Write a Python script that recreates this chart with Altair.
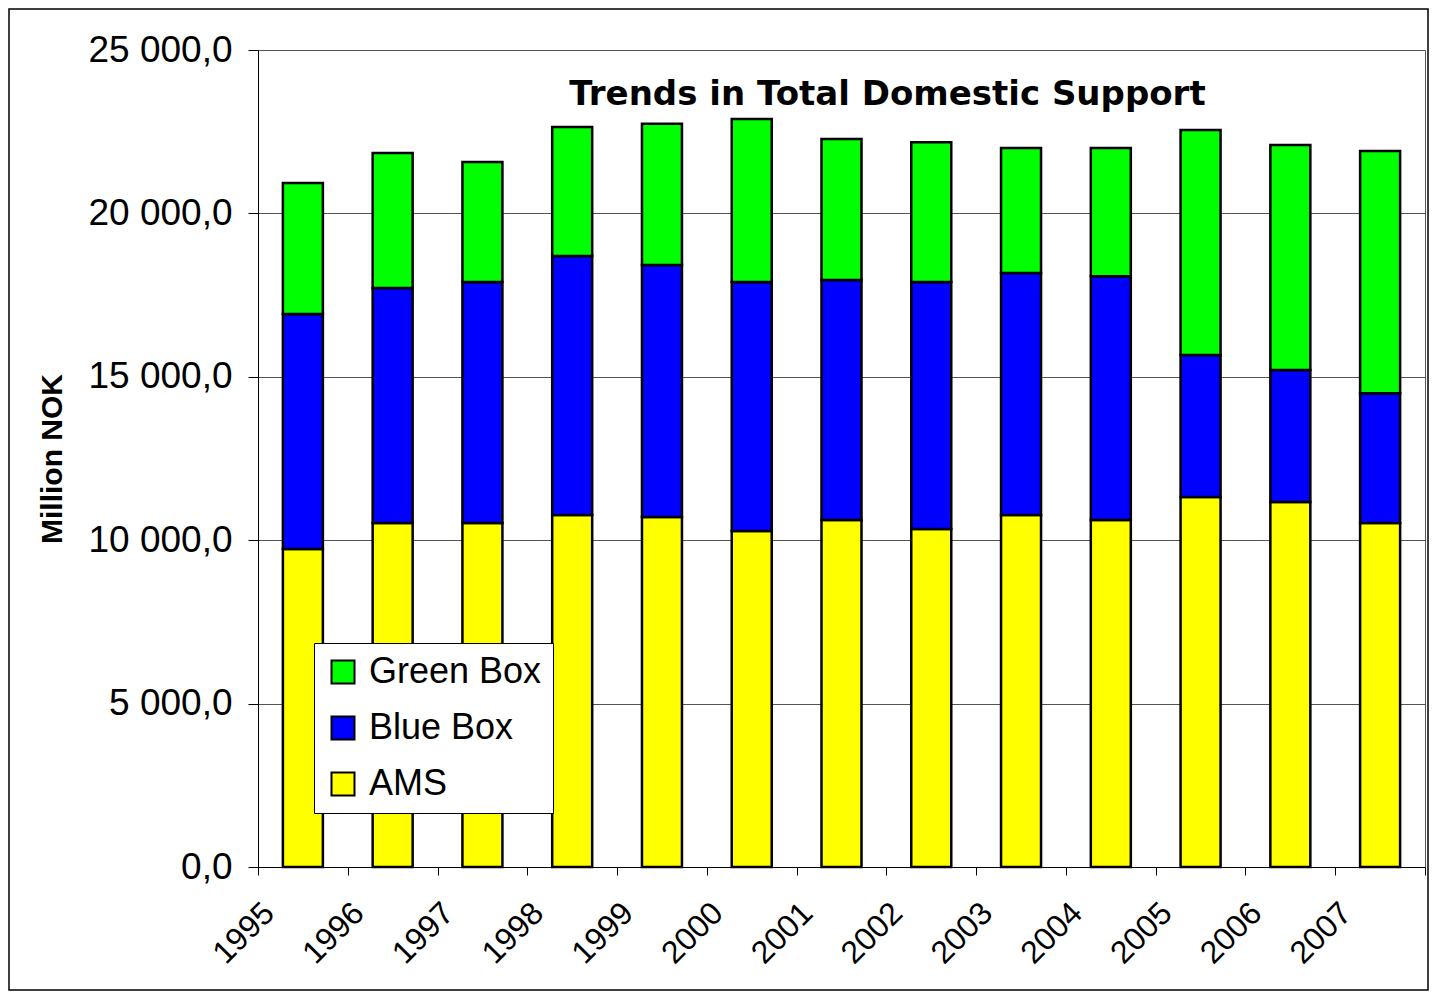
import altair as alt
import pandas as pd

years = [str(y) for y in range(1995, 2008)]
ams = [9730, 10530, 10530, 10770, 10710, 10280, 10620, 10340, 10770, 10620, 11320, 11170, 10530]
blue_box = [7190, 7190, 7370, 7930, 7710, 7620, 7340, 7560, 7410, 7460, 4350, 4040, 3970]
green_box = [4010, 4130, 3670, 3940, 4320, 4990, 4320, 4280, 3820, 3920, 6880, 6880, 7410]

series = [("AMS", ams, 0), ("Blue Box", blue_box, 1), ("Green Box", green_box, 2)]
rows = []
for name, vals, o in series:
    for yr, v in zip(years, vals):
        rows.append({"year": yr, "series": name, "value": v, "ord": o})
df = pd.DataFrame(rows)

FONT = "Liberation Sans"

label_expr = "replace(replace(format(datum.value, ',.1f'), ',', ' '), '.', ',')"

bars = alt.Chart(df).mark_bar(size=40, stroke="black", strokeWidth=2.5).encode(
    x=alt.X("year:N", sort=years,
            scale=alt.Scale(paddingInner=0, paddingOuter=0),
            axis=alt.Axis(title=None, labelAngle=-45, labelAlign="right", labelBaseline="top",
                          labelOffset=-45, labelPadding=22, tickBand="extent", tickSize=8,
                          labelFontSize=32, labelFont=FONT, labelColor="black",
                          domainColor="black", tickColor="black", grid=False)),
    y=alt.Y("value:Q", stack="zero",
            scale=alt.Scale(domain=[0, 25000], nice=False),
            axis=alt.Axis(title="Million NOK", values=[0, 5000, 10000, 15000, 20000, 25000],
                          labelExpr=label_expr, labelFontSize=37, labelFont=FONT, labelColor="black",
                          labelPadding=16, tickSize=10, tickColor="black", domainColor="black",
                          titleFont=FONT, titleFontSize=30, titleFontWeight="bold", titleColor="black",
                          titlePadding=20, gridColor="#555555", gridWidth=1)),
    color=alt.Color("series:N",
                    scale=alt.Scale(domain=["Green Box", "Blue Box", "AMS"],
                                    range=["#00FF00", "#0000FF", "#FFFF00"]),
                    legend=alt.Legend(title=None, orient="none", legendX=56, legendY=593,
                                      fillColor="white", strokeColor="black", padding=11,
                                      symbolType="square", symbolSize=529, symbolStrokeColor="black",
                                      symbolStrokeWidth=2, symbolOpacity=1, labelFont=FONT,
                                      labelFontSize=36, labelColor="black", labelOffset=8,
                                      labelLimit=0, rowPadding=20)),
    order=alt.Order("ord:Q", sort="ascending"),
)

border = alt.Chart(pd.DataFrame({"a": [0]})).mark_rect(
    fillOpacity=0, stroke="black", strokeWidth=1.5
).encode(x=alt.value(-249), x2=alt.value(1170), y=alt.value(-41), y2=alt.value(940))

chart = alt.layer(bars, border).properties(
    width=1167, height=817,
    padding={"left": 250, "top": 42, "right": 4, "bottom": 125},
    autosize=alt.AutoSizeParams(type="none"),
    title=alt.TitleParams("Trends in Total Domestic Support", font="DejaVu Sans", fontSize=34,
                          fontWeight="bold", color="black", dx=46, offset=-131,
                          anchor="middle", baseline="alphabetic"),
).configure_view(stroke="#555555", strokeWidth=1)

chart.save("out.html", embed_options={"renderer": "svg", "actions": False})
